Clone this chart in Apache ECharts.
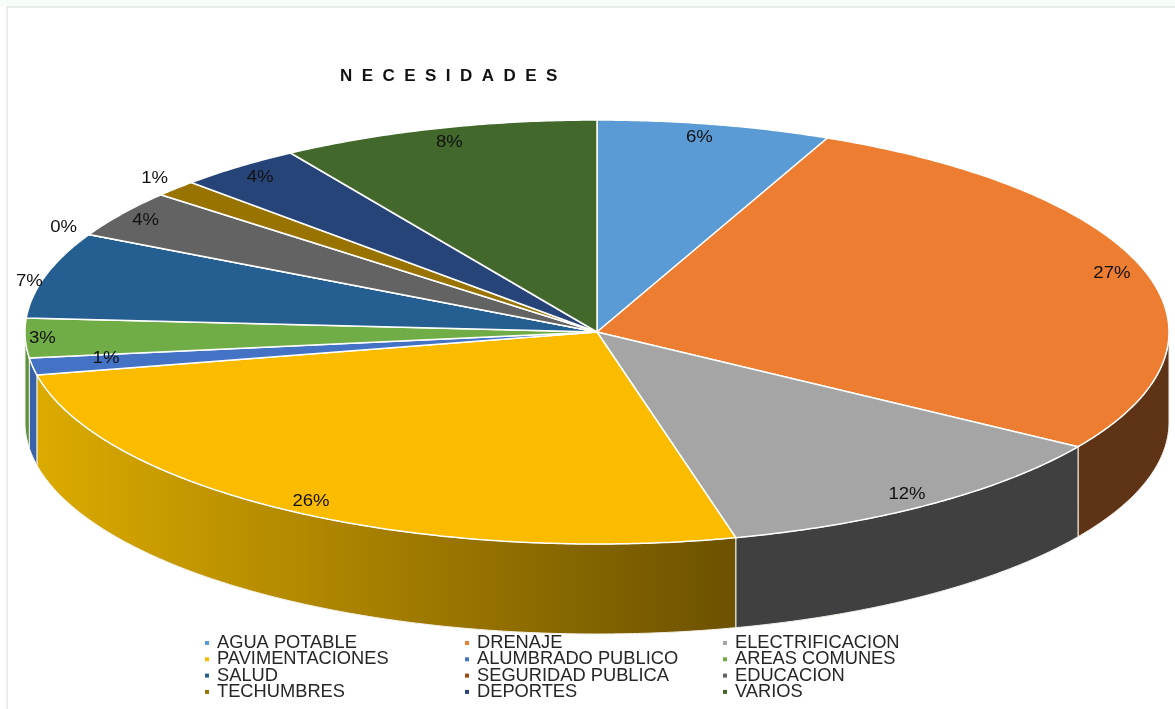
<!DOCTYPE html>
<html>
<head>
<meta charset="utf-8">
<style>
  html, body { margin: 0; padding: 0; background: #fff; }
  #myChart { width: 1175px; height: 709px; }
</style>
<script src="https://cdn.jsdelivr.net/npm/echarts@6/dist/echarts.min.js"></script>
</head>
<body>
<div id="myChart"></div>
<script>
// data
const categories = ['AGUA POTABLE', 'DRENAJE', 'ELECTRIFICACION', 'PAVIMENTACIONES', 'ALUMBRADO PUBLICO', 'AREAS COMUNES',
  'SALUD', 'SEGURIDAD PUBLICA', 'EDUCACION', 'TECHUMBRES', 'DEPORTES', 'VARIOS']
const shares = [6.6, 27.5, 12, 25.65, 1.3, 3, 6.55, 0, 3.6, 1.25, 3.55, 9]
const percentLabels = ['6%', '27%', '12%', '26%', '1%', '3%', '7%', '0%', '4%', '1%', '4%', '8%']

// style
const colors = ['#5b9bd5', '#ed7d31', '#a5a5a5', '#fbbc00', '#4472c4', '#70ad47', '#255e91', '#9e480e', '#636363', '#997300', '#264478', '#43682b']
const wallColors = ['#3f6d97', '#5f3315', '#404040',
  new echarts.graphic.LinearGradient(0, 0, 1, 0, [{ offset: 0, color: '#dcab00' }, { offset: 1, color: '#6c5100' }]),
  '#3a62a8', '#5f913c', '#1c4870', '#6f330a', '#464646', '#6b5100', '#1b3054', '#2f4a1e']
const labelFactors = [[0.87, 0.94], [0.94, 0.97], [0.93, 0.94], [0.94, 0.94], [0.87, 0.74], [0.97, 1],
  [1.03, 0.9], [1.05, 1.08], [0.95, 0.95], [1.05, 1.08], [0.94, 0.94], [0.925, 0.936]]

const center = [597, 332]
const radiusX = 572
const radiusY = 212
const depth = 90
const total = shares.reduce((a, b) => a + b, 0)

function rimPoint(deg, dy) {
  const rad = deg * Math.PI / 180
  return [center[0] + radiusX * Math.sin(rad), center[1] - radiusY * Math.cos(rad) + dy]
}

function arcPoints(from, to, dy) {
  const points = []
  const steps = Math.max(1, Math.ceil((to - from) * 2))
  for (let s = 0; s <= steps; s++) {
    points.push(rimPoint(from + (to - from) * s / steps, dy))
  }
  return points
}

function renderSlice(params, api) {
  const i = params.seriesIndex
  const before = shares.slice(0, i).reduce((a, b) => a + b, 0)
  const from = before / total * 360
  const to = from + api.value(0) / total * 360
  const children = []

  // side wall, only the part facing the viewer
  const wallFrom = Math.max(from, 90)
  const wallTo = Math.min(to, 270)
  if (wallTo > wallFrom) {
    children.push({
      type: 'polygon',
      shape: { points: arcPoints(wallFrom, wallTo, 0).concat(arcPoints(wallFrom, wallTo, depth).reverse()) },
      style: { fill: wallColors[i], stroke: '#f4f1ea', lineWidth: 1 },
      z2: 1
    })
  }

  children.push({
    type: 'polygon',
    shape: { points: [center].concat(arcPoints(from, to, 0)) },
    style: { fill: colors[i], stroke: '#fff', lineWidth: 1.5 },
    z2: 2
  })

  const mid = (from + to) / 2 * Math.PI / 180
  children.push({
    type: 'text',
    x: center[0] + radiusX * labelFactors[i][0] * Math.sin(mid),
    y: center[1] - radiusY * labelFactors[i][1] * Math.cos(mid) + 1,
    scaleX: 1.16,
    style: {
      text: percentLabels[i],
      font: '16px "Liberation Sans"',
      fill: '#111',
      textAlign: 'center',
      textVerticalAlign: 'middle'
    },
    z2: 10
  })
  return { type: 'group', children }
}

function legendColumn(left, start) {
  return {
    orient: 'vertical',
    left: left,
    top: 634,
    data: [0, 3, 6, 9].map(row => categories[row + start]),
    icon: 'rect',
    itemWidth: 4,
    itemHeight: 4,
    itemGap: -1.7,
    selectedMode: false,
    padding: 0,
    textStyle: { fontFamily: 'Liberation Sans', fontSize: 18.3, color: '#262626', padding: [0, 0, 0, 3] }
  }
}

const chart = echarts.init(document.getElementById('myChart'))
chart.setOption({
  animation: false,
  backgroundColor: '#fff',
  title: {
    text: 'N  E  C  E  S  I  D  A  D  E  S',
    left: 340,
    top: 68,
    padding: 0,
    textStyle: { fontFamily: 'Liberation Sans', fontSize: 17, fontWeight: 'bold', color: '#111' }
  },
  graphic: [{
    type: 'rect',
    shape: { x: 0, y: 0, width: 1175, height: 6 },
    style: { fill: '#f7fdf9' },
    silent: true
  }, {
    type: 'polyline',
    shape: { points: [[7, 709], [7, 7], [1175, 7]] },
    style: { fill: 'none', stroke: '#e2e6e3', lineWidth: 1.5 },
    silent: true
  }],
  legend: [legendColumn(205, 0), legendColumn(465, 1), legendColumn(723, 2)],
  series: categories.map((name, i) => ({
    name: name,
    type: 'custom',
    coordinateSystem: 'none',
    silent: true,
    itemStyle: { color: colors[i] },
    renderItem: renderSlice,
    data: [[shares[i]]]
  }))
})
</script>
</body>
</html>
